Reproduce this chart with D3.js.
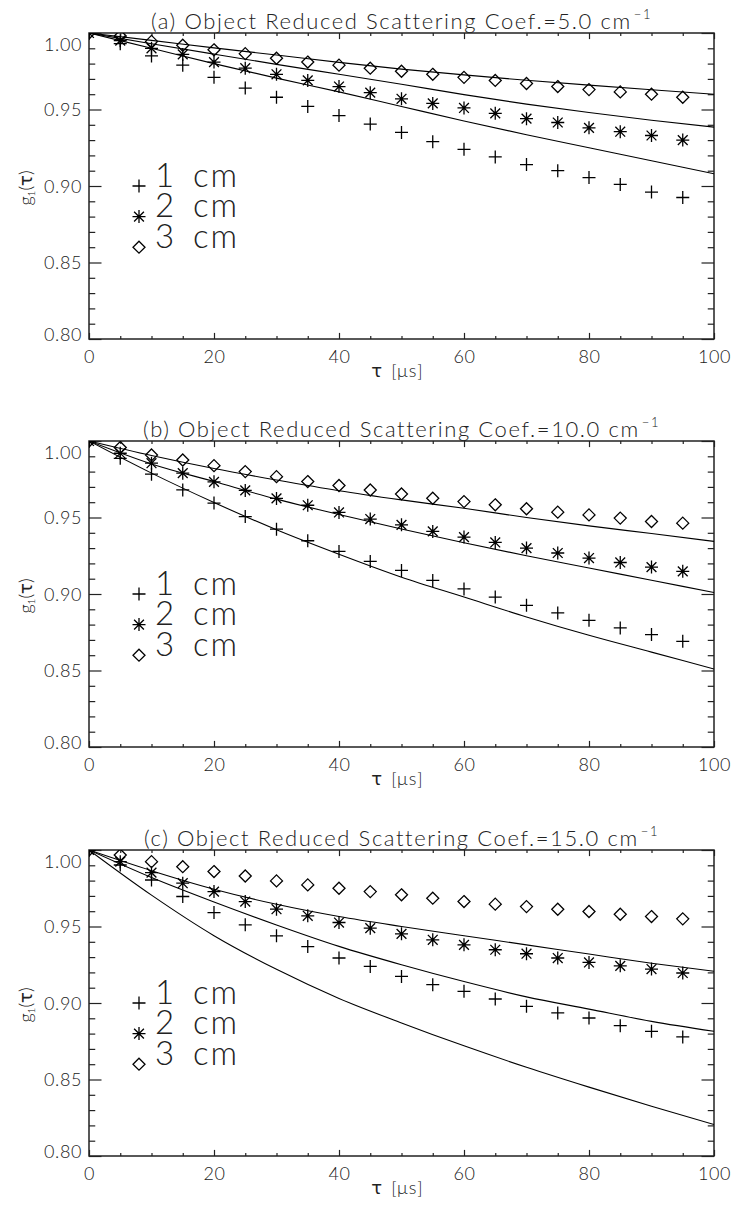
<!DOCTYPE html>
<html>
<head>
<meta charset="utf-8">
<script src="https://cdn.jsdelivr.net/npm/d3@7"></script>
<style>
  html, body { margin: 0; padding: 0; background: #fff; }
  svg { display: block; }
  text { font-family: "Lato", "Open Sans", sans-serif; font-weight: 300; }
  .greek { font-family: "DejaVu Sans", sans-serif; font-weight: 400; }
</style>
</head>
<body>
<svg id="chart" width="736" height="1210"></svg>
<script>
// Delay times of the measured points and of the model curves [µs]
const tau    = [0, 5, 10, 15, 20, 25, 30, 35, 40, 45, 50, 55, 60, 65, 70, 75, 80, 85, 90, 95];
const fitTau = [0, 10, 20, 30, 40, 50, 60, 70, 80, 90, 100];

const depthLabels = ["1", "2", "3"];
const panelLetters = ["(a)", "(b)", "(c)"];
const scatterCoefs = ["5.0", "10.0", "15.0"];

const xTicks = [0, 20, 40, 60, 80, 100];
const yTicks = [0.80, 0.85, 0.90, 0.95, 1.00];

// (a) mu_s' = 5.0 cm^-1 : measured g1 for source-detector separations 1, 2, 3 cm
const a1cm = [1.000, 0.993, 0.985, 0.979, 0.971, 0.964, 0.958, 0.952, 0.946, 0.9405, 0.935, 0.929, 0.924, 0.919, 0.914, 0.910, 0.9055, 0.901, 0.896, 0.8925];
const a2cm = [1.000, 0.995, 0.990, 0.986, 0.981, 0.977, 0.973, 0.969, 0.965, 0.961, 0.957, 0.954, 0.951, 0.9475, 0.944, 0.9415, 0.938, 0.9355, 0.933, 0.930];
const a3cm = [1.000, 0.998, 0.9945, 0.992, 0.989, 0.9865, 0.9835, 0.981, 0.979, 0.977, 0.975, 0.973, 0.971, 0.969, 0.967, 0.965, 0.963, 0.9615, 0.960, 0.958];
const aFit1 = [1.000, 0.990, 0.980, 0.9705, 0.9615, 0.952, 0.9425, 0.9335, 0.925, 0.9165, 0.908];
const aFit2 = [1.000, 0.993, 0.9862, 0.9795, 0.973, 0.9665, 0.9597, 0.9535, 0.948, 0.943, 0.9385];
const aFit3 = [1.000, 0.9952, 0.9903, 0.9856, 0.9808, 0.9764, 0.9726, 0.9691, 0.9659, 0.9629, 0.960];

// (b) mu_s' = 10.0 cm^-1
const b1cm = [1.000, 0.9887, 0.9783, 0.968, 0.9594, 0.9506, 0.9424, 0.9348, 0.9278, 0.9213, 0.9154, 0.9089, 0.9033, 0.898, 0.8926, 0.8876, 0.8828, 0.8778, 0.8735, 0.8691];
const b2cm = [1.000, 0.992, 0.9855, 0.979, 0.9733, 0.9677, 0.9625, 0.958, 0.9533, 0.949, 0.9452, 0.9409, 0.9372, 0.9337, 0.930, 0.9268, 0.9235, 0.9206, 0.9176, 0.9148];
const b3cm = [1.000, 0.9957, 0.9909, 0.9876, 0.9839, 0.980, 0.9767, 0.9735, 0.9709, 0.968, 0.9654, 0.9626, 0.9604, 0.9583, 0.9557, 0.9535, 0.9517, 0.9496, 0.9474, 0.9463];
const bFit1 = [1.000, 0.979, 0.9598, 0.942, 0.926, 0.911, 0.898, 0.885, 0.873, 0.862, 0.851];
const bFit2 = [1.000, 0.985, 0.9735, 0.962, 0.952, 0.9425, 0.9335, 0.925, 0.917, 0.909, 0.901];
const bFit3 = [1.000, 0.9905, 0.982, 0.9745, 0.9675, 0.9615, 0.956, 0.950, 0.9445, 0.9395, 0.9344];

// (c) mu_s' = 15.0 cm^-1
const c1cm = [1.000, 0.9902, 0.9804, 0.9696, 0.9591, 0.9511, 0.9439, 0.9369, 0.9294, 0.9239, 0.9174, 0.912, 0.9076, 0.9026, 0.8978, 0.8935, 0.8902, 0.8852, 0.8815, 0.8778];
const c2cm = [1.000, 0.9924, 0.9852, 0.9783, 0.9728, 0.9663, 0.9613, 0.957, 0.9526, 0.9489, 0.9452, 0.9413, 0.938, 0.9348, 0.9322, 0.9294, 0.9265, 0.9243, 0.9222, 0.9196];
const c3cm = [1.000, 0.9967, 0.9924, 0.9891, 0.9859, 0.983, 0.9798, 0.9772, 0.975, 0.9728, 0.9707, 0.9685, 0.9663, 0.9646, 0.963, 0.9613, 0.9598, 0.958, 0.9565, 0.955];
const cFit1 = [1.000, 0.9705, 0.944, 0.922, 0.903, 0.887, 0.872, 0.858, 0.845, 0.8325, 0.8206];
const cFit2 = [1.000, 0.982, 0.966, 0.951, 0.937, 0.925, 0.914, 0.904, 0.896, 0.888, 0.8815];
const cFit3 = [1.000, 0.9865, 0.9744, 0.9645, 0.9565, 0.950, 0.944, 0.938, 0.932, 0.926, 0.9207];

// Legend rows sit at fixed data coordinates inside each panel
const legendTau = 8;
const legendG1 = [0.90, 0.88, 0.86];

const panels = [
  { letter: panelLetters[0], coef: scatterCoefs[0], series: [a1cm, a2cm, a3cm], fits: [aFit1, aFit2, aFit3] },
  { letter: panelLetters[1], coef: scatterCoefs[1], series: [b1cm, b2cm, b3cm], fits: [bFit1, bFit2, bFit3] },
  { letter: panelLetters[2], coef: scatterCoefs[2], series: [c1cm, c2cm, c3cm], fits: [cFit1, cFit2, cFit3] }
];

// ---- layout ----
const left = 89, plotW = 625, plotH = 306;
const tops = [33, 441, 850];
const ink = "#222";

const x = d3.scaleLinear().domain([0, 100]).range([0, plotW]);
const y = d3.scaleLinear().domain([0.80, 1.00]).range([plotH, 0]);

const xMinor = d3.range(0, 101, 5).filter(v => v % 20 !== 0);
const yMinor = d3.range(80, 101, 1).map(v => v / 100).filter((v, i) => i % 5 !== 0);

// IDL-like plot symbols: plus, asterisk, diamond
const s = 6.5, dg = 4.9, dm = 6;
const symbolPaths = [
  `M${-s},0H${s}M0,${-s}V${s}`,
  `M${-s},0H${s}M0,${-s}V${s}M${-dg},${-dg}L${dg},${dg}M${-dg},${dg}L${dg},${-dg}`,
  `M0,${-dm}L${dm},0L0,${dm}L${-dm},0Z`
];

const svg = d3.select("#chart");
const defs = svg.append("defs");

const line = d3.line()
  .x((d, j) => x(fitTau[j]))
  .y(d => y(d))
  .curve(d3.curveMonotoneX);

function styleAxis(sel) {
  sel.select(".domain").remove();
  sel.selectAll(".tick line").attr("stroke", ink).attr("stroke-width", 1.2);
  sel.selectAll(".tick text").attr("fill", ink)
    .style("font-size", "18px").style("letter-spacing", "0.6px");
}

panels.forEach((p, i) => {
  const g = svg.append("g").attr("transform", `translate(${left},${tops[i]})`);

  defs.append("clipPath").attr("id", "plotclip" + i)
    .append("rect").attr("width", plotW).attr("height", plotH);

  // left axis (labelled) and minor ticks
  const yAx = g.append("g")
    .call(d3.axisLeft(y).tickValues(yTicks).tickSize(-12.5).tickPadding(7).tickFormat(d3.format(".2f")))
    .call(styleAxis);
  yAx.selectAll(".tick text").attr("dy", d => d === 1.00 ? "0.95em" : d === 0.80 ? "0.08em" : "0.36em");
  g.append("g")
    .call(d3.axisLeft(y).tickValues(yMinor).tickSize(-6.25).tickFormat(""))
    .call(styleAxis);

  // right axis
  g.append("g").attr("transform", `translate(${plotW},0)`)
    .call(d3.axisRight(y).tickValues(yTicks).tickSize(-12.5).tickFormat(""))
    .call(styleAxis);
  g.append("g").attr("transform", `translate(${plotW},0)`)
    .call(d3.axisRight(y).tickValues(yMinor).tickSize(-6.25).tickFormat(""))
    .call(styleAxis);

  // bottom axis (labelled)
  g.append("g").attr("transform", `translate(0,${plotH})`)
    .call(d3.axisBottom(x).tickValues(xTicks).tickSize(-6.1).tickPadding(11).tickFormat(d3.format("d")))
    .call(styleAxis);
  g.append("g").attr("transform", `translate(0,${plotH})`)
    .call(d3.axisBottom(x).tickValues(xMinor).tickSize(-3).tickFormat(""))
    .call(styleAxis);

  // top axis
  g.append("g")
    .call(d3.axisTop(x).tickValues(xTicks).tickSize(-6.1).tickFormat(""))
    .call(styleAxis);
  g.append("g")
    .call(d3.axisTop(x).tickValues(xMinor).tickSize(-3).tickFormat(""))
    .call(styleAxis);

  // frame
  g.append("rect").attr("width", plotW).attr("height", plotH)
    .attr("fill", "none").attr("stroke", ink).attr("stroke-width", 1.5);

  // model curves and measured points, clipped to the plot box
  const plot = g.append("g").attr("clip-path", `url(#plotclip${i})`);

  plot.selectAll("path.fit").data(p.fits).join("path")
    .attr("class", "fit")
    .attr("d", line)
    .attr("fill", "none")
    .attr("stroke", "#000")
    .attr("stroke-width", 1.1);

  p.series.forEach((ser, k) => {
    plot.selectAll(null).data(ser).join("path")
      .attr("transform", (d, j) => `translate(${x(tau[j])},${y(d)})`)
      .attr("d", symbolPaths[k])
      .attr("fill", "none")
      .attr("stroke", "#000")
      .attr("stroke-width", 1.3);
  });

  // legend
  const leg = g.append("g");
  depthLabels.forEach((lab, k) => {
    const lx = x(legendTau), ly = y(legendG1[k]);
    leg.append("path")
      .attr("transform", `translate(${lx},${ly})`)
      .attr("d", symbolPaths[k])
      .attr("fill", "none").attr("stroke", "#000").attr("stroke-width", 1.3);
    const t = leg.append("text")
      .attr("x", lx + 16)
      .attr("y", ly + 0.5)
      .attr("fill", ink)
      .style("font-size", "33px");
    t.append("tspan").text(lab);
    t.append("tspan").attr("x", lx + 54).style("letter-spacing", "2px").text("cm");
  });

  // panel title
  const title = g.append("text")
    .attr("x", plotW / 2)
    .attr("y", -4)
    .attr("text-anchor", "middle")
    .attr("fill", ink)
    .style("font-size", "22px")
    .style("letter-spacing", "1.6px");
  title.append("tspan").text(`${p.letter} Object Reduced Scattering Coef.=${p.coef} cm`);
  title.append("tspan").attr("dx", 2).attr("dy", -10).style("font-size", "13px").text("\u22121");

  // x axis title
  const xt = g.append("text")
    .attr("x", plotW / 2 - 4)
    .attr("y", plotH + 37.5)
    .attr("text-anchor", "middle")
    .attr("fill", ink)
    .style("font-size", "18px");
  xt.append("tspan").attr("class", "greek").text("\u03c4");
  xt.append("tspan").attr("dx", 9).style("letter-spacing", "1px").text("[\u03bcs]");

  // y axis title
  const yt = g.append("text")
    .attr("transform", `translate(-57,${plotH / 2 + 2}) rotate(-90)`)
    .attr("text-anchor", "middle")
    .attr("fill", ink)
    .style("font-size", "18px");
  yt.append("tspan").text("g");
  yt.append("tspan").attr("dy", 3).style("font-size", "10px").text("1");
  yt.append("tspan").attr("dy", -3).text("(");
  yt.append("tspan").attr("class", "greek").text("\u03c4");
  yt.append("tspan").text(")");
});
</script>
</body>
</html>
